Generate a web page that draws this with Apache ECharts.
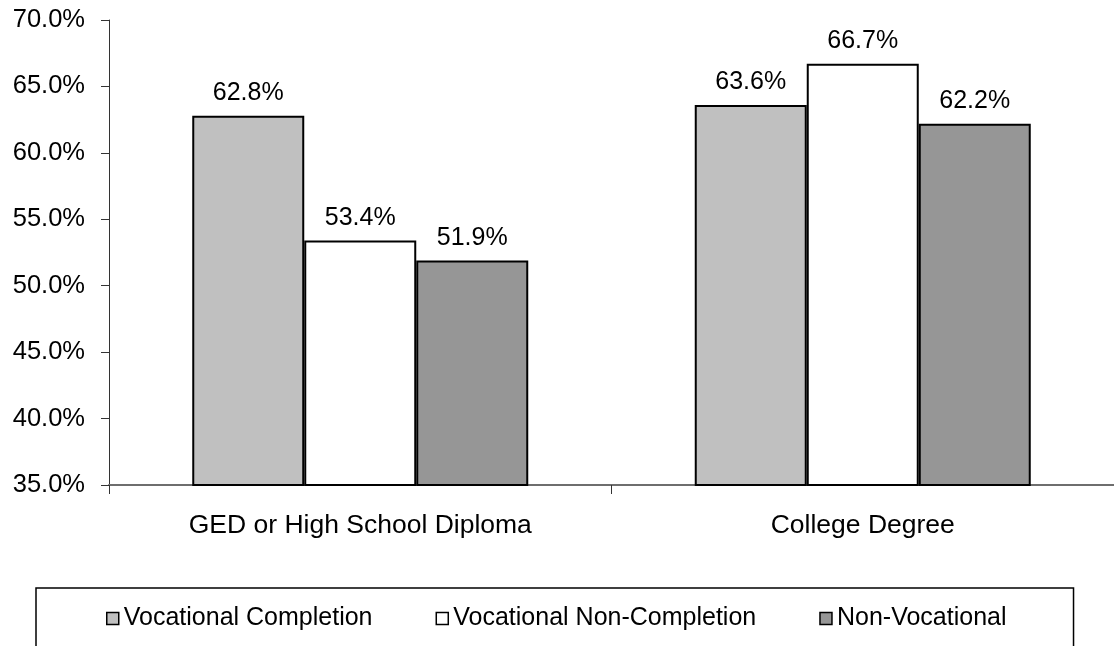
<!DOCTYPE html>
<html>
<head>
<meta charset="utf-8">
<script src="https://cdn.jsdelivr.net/npm/echarts@6/dist/echarts.min.js"></script>
<style>html,body{margin:0;padding:0;background:#fff;}#c{width:1114px;height:646px;}</style>
</head>
<body>
<div id="c"></div>
<script>
const categories = ['GED or High School Diploma', 'College Degree'];
const seriesNames = ['Vocational Completion', 'Vocational Non-Completion', 'Non-Vocational'];
const vocationalCompletion = [62.8, 63.6];
const vocationalNonCompletion = [53.4, 66.7];
const nonVocational = [51.9, 62.2];
const yTicks = [35, 40, 45, 50, 55, 60, 65, 70];

const FONT = '"Liberation Sans", Arial, sans-serif';
const colors = ['#C0C0C0', '#FFFFFF', '#969696'];
const values = [vocationalCompletion, vocationalNonCompletion, nonVocational];

const chart = echarts.init(document.getElementById('c'), null, {renderer: 'canvas'});
chart.setOption({
  animation: false,
  backgroundColor: '#fff',
  textStyle: {fontFamily: FONT, color: '#000'},
  grid: {left: 109, width: 1012, top: 20, bottom: 161, containLabel: false},
  legend: {
    data: seriesNames,
    left: 36,
    top: 588,
    orient: 'horizontal',
    padding: [18, 67, 60, 70],
    itemGap: 63,
    itemWidth: 12,
    itemHeight: 12,
    icon: 'rect',
    borderColor: '#000',
    borderWidth: 1.5,
    itemStyle: {borderColor: '#000', borderWidth: 1.5},
    textStyle: {fontFamily: FONT, fontSize: 25, color: '#000'}
  },
  xAxis: {
    type: 'category',
    data: categories,
    axisLine: {lineStyle: {color: '#6e6e6e', width: 2}},
    axisTick: {show: true, length: 9, alignWithLabel: false, lineStyle: {color: '#333', width: 1}},
    axisLabel: {fontFamily: FONT, fontSize: 26.5, color: '#000', margin: 27},
    splitLine: {show: false}
  },
  yAxis: {
    type: 'value',
    min: yTicks[0],
    max: yTicks[yTicks.length - 1],
    interval: 5,
    axisLine: {show: true, lineStyle: {color: '#333', width: 1}},
    axisTick: {show: true, length: 8, lineStyle: {color: '#333', width: 1}},
    axisLabel: {fontFamily: FONT, fontSize: 25.5, color: '#000', margin: 24,
      formatter: v => v.toFixed(1) + '%'},
    splitLine: {show: false}
  },
  series: seriesNames.map((name, i) => ({
    name: name,
    type: 'bar',
    data: values[i],
    barWidth: 112,
    barGap: '0%',
    itemStyle: {color: colors[i], borderColor: '#000', borderWidth: 2},
    label: {
      show: true,
      position: 'top',
      distance: 10,
      fontFamily: FONT,
      fontSize: 25,
      color: '#000',
      formatter: p => p.value.toFixed(1) + '%'
    }
  }))
});
</script>
</body>
</html>
